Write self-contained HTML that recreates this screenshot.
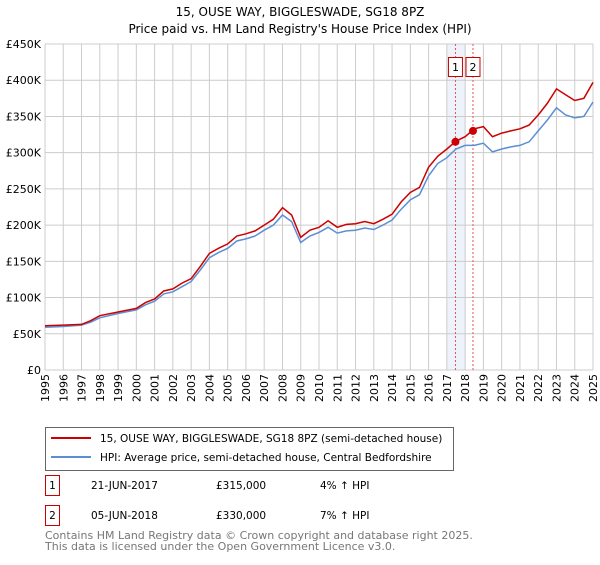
<!DOCTYPE html>
<html><head><meta charset="utf-8"><style>
body{margin:0;background:#fff;font-family:"Liberation Sans","DejaVu Sans",sans-serif;}
svg text{font-family:"DejaVu Sans","Liberation Sans",sans-serif;}
</style></head><body>
<svg width="600" height="560" viewBox="0 0 600 560">
<text x="300" y="16" text-anchor="middle" font-size="12">15, OUSE WAY, BIGGLESWADE, SG18 8PZ</text>
<text x="300" y="33" text-anchor="middle" font-size="12">Price paid vs. HM Land Registry's House Price Index (HPI)</text>
<g id="grid"></g><g id="series"></g><g id="axes"></g>
<g>
<rect x="45.5" y="427.5" width="408" height="43" fill="#fff" stroke="#666"/>
<line x1="51" y1="438" x2="91" y2="438" stroke="#cc0000" stroke-width="2"/>
<text x="100" y="442" font-size="10.5">15, OUSE WAY, BIGGLESWADE, SG18 8PZ (semi-detached house)</text>
<line x1="51" y1="457" x2="91" y2="457" stroke="#5b8fd4" stroke-width="2"/>
<text x="100" y="461" font-size="10.5">HPI: Average price, semi-detached house, Central Bedfordshire</text>
</g>
<g font-size="10.5">
<rect x="45.5" y="475.5" width="14" height="20" fill="none" stroke="#cc0000"/><text x="52.5" y="489" text-anchor="middle">1</text>
<text x="91" y="489">21-JUN-2017</text><text x="216" y="489">£315,000</text><text x="320" y="489">4% ↑ HPI</text>
<rect x="45.5" y="505.5" width="14" height="20" fill="none" stroke="#cc0000"/><text x="52.5" y="519" text-anchor="middle">2</text>
<text x="91" y="519">05-JUN-2018</text><text x="216" y="519">£330,000</text><text x="320" y="519">7% ↑ HPI</text>
</g>
<text x="45" y="539" font-size="11" fill="#777">Contains HM Land Registry data © Crown copyright and database right 2025.</text>
<text x="45" y="550" font-size="11" fill="#777">This data is licensed under the Open Government Licence v3.0.</text>
</svg>
<script>
const years=[1995,1996,1997,1997.5,1998,1999,2000,2000.5,2001,2001.5,2002,2002.5,2003,2003.5,2004,2004.5,2005,2005.5,2006,2006.5,2007,2007.5,2008,2008.5,2009,2009.5,2010,2010.5,2011,2011.5,2012,2012.5,2013,2013.5,2014,2014.5,2015,2015.5,2016,2016.5,2017,2017.5,2018,2018.5,2019,2019.5,2020,2020.5,2021,2021.5,2022,2022.5,2023,2023.5,2024,2024.5,2025];
const hpiValues=[59,60,62,66,72,78,83,90,95,105,108,115,122,138,155,162,168,178,181,185,193,200,214,205,176,185,190,197,189,192,193,196,194,200,207,222,235,242,268,285,293,305,310,310,313,301,305,308,310,315,330,345,362,352,348,350,370];
const propValues=[61,62,63,68,75,80,85,93,98,109,112,120,126,143,161,168,174,185,188,192,200,208,224,214,183,193,197,206,197,201,202,205,202,208,215,232,245,252,280,295,305,316,322,333,336,322,327,330,333,338,352,368,388,380,372,375,397];
const saleDates=[2017.47,2018.43];
const salePrices=[315,330];
const saleLabels=["1","2"];
const yTicks=[0,50,100,150,200,250,300,350,400,450];
const xTicks=[1995,1996,1997,1998,1999,2000,2001,2002,2003,2004,2005,2006,2007,2008,2009,2010,2011,2012,2013,2014,2015,2016,2017,2018,2019,2020,2021,2022,2023,2024,2025];
const L=45,R=593,T=44,B=370;
const xs=y=>L+(y-1995)/30*(R-L);
const ys=v=>B-v/450*(B-T);
const NS="http://www.w3.org/2000/svg";
function mk(tag,attrs,parent){const e=document.createElementNS(NS,tag);for(const k in attrs)e.setAttribute(k,attrs[k]);parent.appendChild(e);return e;}
const grid=document.getElementById('grid'),ser=document.getElementById('series'),ax=document.getElementById('axes');
const band=mk('rect',{x:xs(2017),y:T,width:xs(2018)-xs(2017),height:B-T,fill:'#eef3fb'},grid);


xTicks.forEach(t=>{const l=mk('line',{x1:xs(t),x2:xs(t),y1:T,y2:B,stroke:'#ccc'},grid);


const tx=mk('text',{x:0,y:0,'font-size':11,'text-anchor':'end',transform:`translate(${xs(t)+4},${B+4}) rotate(-90)`},ax);tx.textContent=t;

});
yTicks.forEach(t=>{const l=mk('line',{x1:L,x2:R,y1:ys(t),y2:ys(t),stroke:'#ccc'},grid);


const tx=mk('text',{x:L-4,y:ys(t)+4,'font-size':11,'text-anchor':'end'},ax);tx.textContent=t===0?'£0':'£'+t+'K';

});
saleDates.forEach((d,i)=>{const l=mk('line',{x1:xs(d),x2:xs(d),y1:T,y2:B,stroke:'#e05555','stroke-dasharray':'2,2'},grid);


const bx=mk('rect',{x:xs(d)-7,y:57.5,width:14,height:19,fill:'#fff',stroke:'#cc0000'},ax);


const tx=mk('text',{x:xs(d),y:71,'font-size':11,'text-anchor':'middle'},ax);tx.textContent=saleLabels[i];

});
const pts=a=>a.map((v,i)=>xs(years[i]).toFixed(1)+','+ys(v).toFixed(1)).join(' ');
const hl=mk('polyline',{points:pts(hpiValues),fill:'none',stroke:'#5b8fd4','stroke-width':1.5},ser);


const pl=mk('polyline',{points:pts(propValues),fill:'none',stroke:'#cc0000','stroke-width':1.5},ser);


saleDates.forEach((d,i)=>{const c=mk('circle',{cx:xs(d),cy:ys(salePrices[i]),r:4,fill:'#cc0000'},ser);

});
</script>
</body></html>
